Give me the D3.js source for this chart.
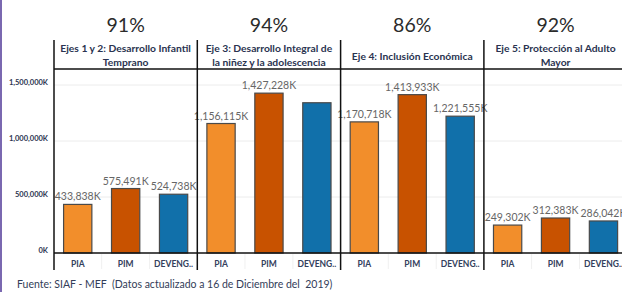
<!DOCTYPE html>
<html lang="es">
<head>
<meta charset="utf-8">
<title>Ejecución presupuestal por eje</title>
<script src="https://cdn.jsdelivr.net/npm/d3@7"></script>
<style>
  body { margin: 0; background: #fff; }
  svg text { font-family: Lato, "Open Sans", sans-serif; }
  .y.axis text { font-size: 7.5px; font-weight: bold; fill: #2c3550; }
  .x.axis text { font-size: 8.5px; font-weight: bold; fill: #33405c; }
  .head { font-size: 10.3px; font-weight: bold; fill: #2a3350; }
  .pct { font-size: 19.5px; fill: #2b2b2b; }
  .val { font-size: 10.5px; fill: #666; }
</style>
</head>
<body>
<script>
// data (values in thousands of soles)
var ejes = ["Eje 1-2", "Eje 3", "Eje 4", "Eje 5"];
var headerLines = [
  ["Ejes 1 y 2: Desarrollo Infantil", "Temprano"],
  ["Eje 3: Desarrollo Integral de", "la niñez y la adolescencia"],
  ["Eje 4: Inclusión Económica"],
  ["Eje 5: Protección al Adulto", "Mayor"]
];
var pctLabels = ["91%", "94%", "86%", "92%"];
var categories = ["PIA", "PIM", "DEVENGADO"];
var catLabels = ["PIA", "PIM", "DEVENG.."];
var pia    = [433838, 1156115, 1170718, 249302];
var pim    = [575491, 1427228, 1413933, 312383];
var deveng = [524738, 1341594, 1221555, 286042];
var yTicks = [0, 500000, 1000000, 1500000];
// labels Tableau dropped because they overlapped
var hiddenLabels = ["Eje 3|DEVENGADO"];

var w = 622, h = 292;
var x0 = 54, panelW = 143.3;
var colors = { "PIA": "#f28e2b", "PIM": "#c85200", "DEVENGADO": "#1170aa" };

var svg = d3.select("body").append("svg")
  .attr("width", w)
  .attr("height", h);

// left purple border
svg.append("rect")
  .attr("x", 0).attr("y", 0)
  .attr("width", 2).attr("height", h)
  .attr("fill", "#7a68b0");

var yScale = d3.scaleLinear()
  .domain([0, 1500000])
  .range([253, 85]);

var panelScale = d3.scaleBand()
  .domain(ejes)
  .range([x0, x0 + panelW * ejes.length]);

var xScale = d3.scaleBand()
  .domain(categories)
  .range([0, panelW])
  .paddingInner(0.41)
  .paddingOuter(0.2);

// gridlines
svg.append("g")
  .selectAll("line")
  .data(yTicks.filter(function(d) { return d > 0; }))
  .enter()
  .append("line")
  .attr("x1", x0).attr("x2", w)
  .attr("y1", function(d) { return yScale(d); })
  .attr("y2", function(d) { return yScale(d); })
  .attr("stroke", "#ececec");

// y axis
var yAxis = d3.axisLeft(yScale)
  .tickValues(yTicks)
  .tickSize(0)
  .tickPadding(6)
  .tickFormat(function(d) { return d3.format(",")(d) + "K"; });

svg.append("g")
  .attr("class", "y axis")
  .attr("transform", "translate(" + x0 + ",-3)")
  .call(yAxis)
  .call(function(g) { g.select(".domain").remove(); });

var rows = ejes.map(function(e, i) {
  return { eje: e, i: i, vals: [pia[i], pim[i], deveng[i]] };
});

var panels = svg.selectAll(".panel")
  .data(rows)
  .enter()
  .append("g")
  .attr("class", "panel")
  .attr("transform", function(d) { return "translate(" + panelScale(d.eje) + ",0)"; });

// percentage on top
panels.append("text")
  .attr("class", "pct")
  .attr("x", panelW / 2)
  .attr("y", 32)
  .attr("text-anchor", "middle")
  .text(function(d) { return pctLabels[d.i]; });

// header titles
panels.each(function(d) {
  var lines = headerLines[d.i];
  var g = d3.select(this);
  lines.forEach(function(t, k) {
    g.append("text")
      .attr("class", "head")
      .attr("x", panelW / 2)
      .attr("y", lines.length == 1 ? 60 : 52 + k * 14)
      .attr("text-anchor", "middle")
      .text(t);
  });
});

// faint separators in category row
panels.selectAll(".sep")
  .data(categories.slice(1))
  .enter()
  .append("line")
  .attr("x1", function(c) { return xScale(c) - xScale.step() * xScale.paddingInner() / 2; })
  .attr("x2", function(c) { return xScale(c) - xScale.step() * xScale.paddingInner() / 2; })
  .attr("y1", 254).attr("y2", 269)
  .attr("stroke", "#f0f0f0");

// bars
panels.selectAll("rect")
  .data(function(d) {
    return categories.map(function(c, k) { return { eje: d.eje, cat: c, v: d.vals[k] }; });
  })
  .enter()
  .append("rect")
  .attr("x", function(d) { return xScale(d.cat); })
  .attr("y", function(d) { return yScale(d.v); })
  .attr("width", xScale.bandwidth())
  .attr("height", function(d) { return yScale(0) - yScale(d.v); })
  .attr("fill", function(d) { return colors[d.cat]; })
  .attr("stroke", "#4a4a4a")
  .attr("stroke-width", 1.2);

// value labels
panels.selectAll(".val")
  .data(function(d) {
    return categories.map(function(c, k) { return { eje: d.eje, cat: c, v: d.vals[k] }; })
      .filter(function(o) { return hiddenLabels.indexOf(o.eje + "|" + o.cat) < 0; });
  })
  .enter()
  .append("text")
  .attr("class", "val")
  .attr("x", function(d) { return xScale(d.cat) + xScale.bandwidth() / 2; })
  .attr("y", function(d) { return yScale(d.v) - 4; })
  .attr("text-anchor", "middle")
  .text(function(d) { return d3.format(",")(d.v) + "K"; });

// category axis
panels.append("g")
  .attr("class", "x axis")
  .attr("transform", "translate(0,253)")
  .call(d3.axisBottom(xScale).tickSize(0).tickPadding(8)
    .tickFormat(function(c) { return catLabels[categories.indexOf(c)]; }))
  .call(function(g) { g.select(".domain").remove(); });

// frame lines
svg.append("line")
  .attr("x1", x0).attr("x2", w)
  .attr("y1", 69).attr("y2", 69)
  .attr("stroke", "#111").attr("stroke-width", 1.5);

svg.append("line")
  .attr("x1", x0).attr("x2", w)
  .attr("y1", yScale(0)).attr("y2", yScale(0))
  .attr("stroke", "#111").attr("stroke-width", 1.5);

svg.append("g")
  .selectAll("line")
  .data(ejes)
  .enter()
  .append("line")
  .attr("x1", function(d) { return panelScale(d); })
  .attr("x2", function(d) { return panelScale(d); })
  .attr("y1", 40).attr("y2", 270)
  .attr("stroke", "#111").attr("stroke-width", 1.5);

// source note
svg.append("text")
  .attr("x", 17)
  .attr("y", 288)
  .attr("xml:space", "preserve")
  .style("white-space", "pre")
  .style("font-size", "10.5px")
  .style("fill", "#333d58")
  .text("Fuente: SIAF - MEF  (Datos actualizado a 16 de Diciembre del  2019)");
</script>
</body>
</html>
